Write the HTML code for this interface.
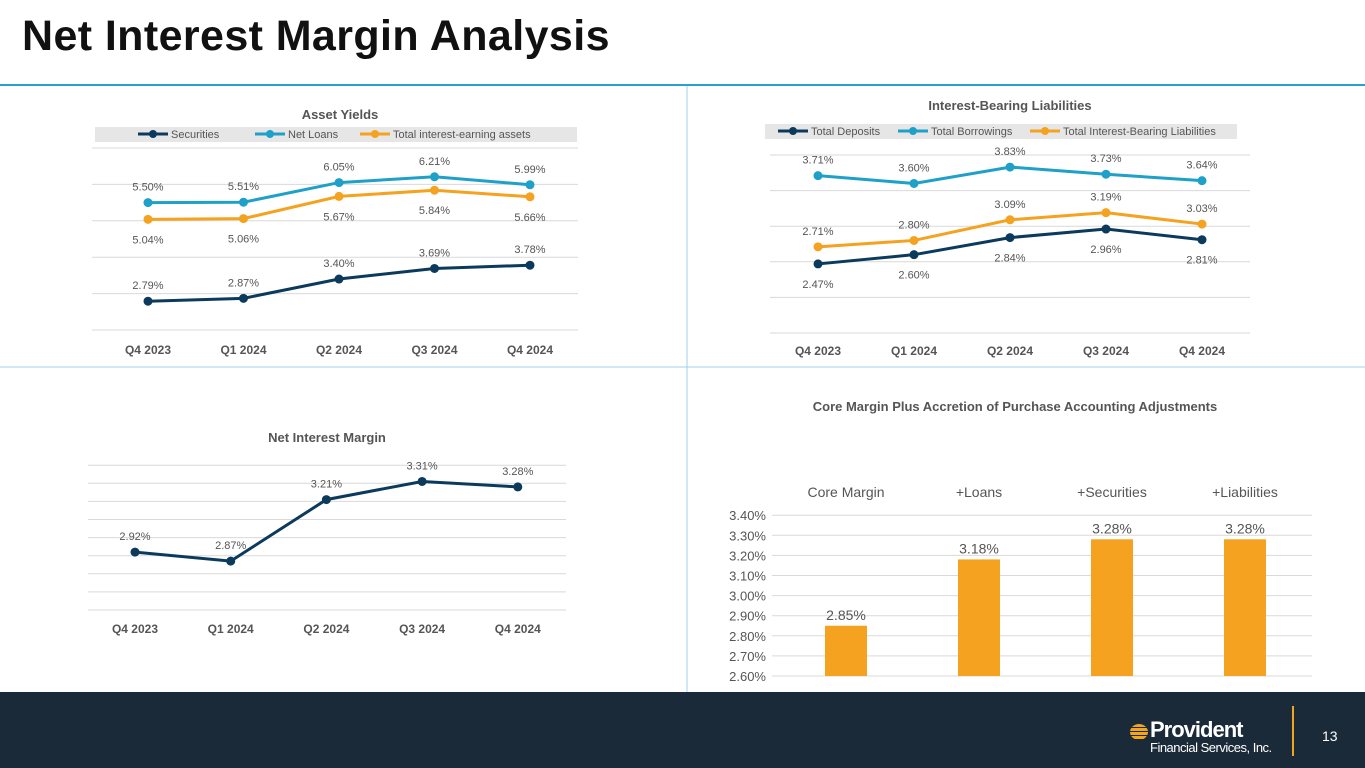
<!DOCTYPE html>
<html><head><meta charset="utf-8"><style>
body{margin:0;width:1365px;height:768px;overflow:hidden;background:#fff;font-family:"Liberation Sans",sans-serif;position:relative}
#title{position:absolute;left:22px;top:12px;font-size:43px;font-weight:bold;color:#111;margin:0;letter-spacing:0.4px}
#footer{position:absolute;left:0;top:692px;width:1365px;height:76px;background:#1b2a38}
svg{position:absolute;left:0;top:0}
</style></head><body>
<h1 id="title">Net Interest Margin Analysis</h1>
<div id="footer">
 <div style="position:absolute;left:1130px;top:28px;color:#fff">
  <div style="position:absolute;left:0;top:4px;width:18px;height:16px;border-radius:50%;background:repeating-linear-gradient(#f3a51d 0 3px,#1b2a38 3px 4px)"></div>
  <div style="position:absolute;left:20px;top:-3px;font-size:22px;font-weight:bold;letter-spacing:-1px">Provident</div>
  <div style="position:absolute;left:20px;top:20px;font-size:13px;white-space:nowrap;letter-spacing:-0.5px">Financial Services, Inc.</div>
 </div>
 <div style="position:absolute;left:1292px;top:14px;width:2px;height:50px;background:#f3a51d"></div>
 <div style="position:absolute;left:1322px;top:36px;color:#fff;font-size:14px">13</div>
</div>
<svg id="s" width="1365" height="692"></svg>
<script>
const quarters=["Q4 2023","Q1 2024","Q2 2024","Q3 2024","Q4 2024"];
const securities=[2.79,2.87,3.40,3.69,3.78];
const netLoans=[5.50,5.51,6.05,6.21,5.99];
const totalAssets=[5.04,5.06,5.67,5.84,5.66];
const deposits=[2.47,2.60,2.84,2.96,2.81];
const borrowings=[3.71,3.60,3.83,3.73,3.64];
const totalLiab=[2.71,2.80,3.09,3.19,3.03];
const nim=[2.92,2.87,3.21,3.31,3.28];
const barCats=["Core Margin","+Loans","+Securities","+Liabilities"];
const barVals=[2.85,3.18,3.28,3.28];
const barTicks=["2.60%","2.70%","2.80%","2.90%","3.00%","3.10%","3.20%","3.30%","3.40%"];
const NS="http://www.w3.org/2000/svg",S=document.getElementById('s');
function el(t,a,txt){const e=document.createElementNS(NS,t);for(const k in a)e.setAttribute(k,a[k]);if(txt!=null)e.textContent=txt;S.appendChild(e);return e;}
const DARK="#0b3a5c",BLUE="#1ea0c8",ORANGE="#f4a21f";
let l=el('line',{x1:0,y1:85,x2:1365,y2:85,stroke:"#2a9fd6","stroke-width":2});
l=el('line',{x1:0,y1:367,x2:1365,y2:367,stroke:"#9fd3ea","stroke-width":1});
l=el('line',{x1:687,y1:86,x2:687,y2:692,stroke:"#9fd3ea","stroke-width":1});

function lineChart(o){
 const y=v=>o.y0-(v-o.min)*o.ppu;
 const x=i=>o.x0+i*o.dx;
 let t=el('text',{x:o.cx,y:o.ty,"text-anchor":"middle","font-size":13,"font-weight":"bold",fill:"#555"},o.title);
 
 for(let g=0;g<=o.grids;g++){const gy=y(o.min+g*o.step);const e=el('line',{x1:o.gx1,x2:o.gx2,y1:gy,y2:gy,stroke:"#d9d9d9"});}
 quarters.forEach((q,i)=>{const e=el('text',{x:x(i),y:o.xly,"text-anchor":"middle","font-size":12,"font-weight":"bold",fill:"#555"},q);});
 if(o.legend){const r=el('rect',{x:o.lx,y:o.ly-7,width:o.lw,height:15,fill:"#e6e6e6"});
  o.series.forEach((s,k)=>{const lx=o.legend[k];
   const e=el('line',{x1:lx,x2:lx+30,y1:o.ly,y2:o.ly,stroke:s.c,"stroke-width":3});
   el('circle',{cx:lx+15,cy:o.ly,r:4,fill:s.c});
   const tt=el('text',{x:lx+33,y:o.ly+4,"font-size":11,fill:"#555"},s.n);});}
 o.series.forEach(s=>{
  const p=el('polyline',{points:s.d.map((v,i)=>x(i)+","+y(v)).join(" "),fill:"none",stroke:s.c,"stroke-width":3});
  
  s.d.forEach((v,i)=>{const c=el('circle',{cx:x(i),cy:y(v),r:4.5,fill:s.c});
   const tx=el('text',{x:x(i),y:y(v)+(s.below?24:-12),"text-anchor":"middle","font-size":11,fill:"#555"},v.toFixed(2)+"%");});
 });
}
lineChart({key:'asset-yields',title:'Asset Yields',cx:340,ty:119,min:2,step:1,grids:5,ppu:36.4,y0:330,x0:148,dx:95.5,gx1:92,gx2:578,xly:354,
 legend:[138,255,360],lx:95,ly:134,lw:482,
 series:[{k:'securities',n:'Securities',d:securities,c:DARK},{k:'net-loans',n:'Net Loans',d:netLoans,c:BLUE},{k:'total-assets',n:'Total interest-earning assets',d:totalAssets,c:ORANGE,below:true}]});
lineChart({key:'liabilities',title:'Interest-Bearing Liabilities',cx:1010,ty:110,min:1.5,step:0.5,grids:5,ppu:71.2,y0:333,x0:818,dx:96,gx1:770,gx2:1250,xly:355,
 legend:[778,898,1030],lx:765,ly:131,lw:472,
 series:[{k:'deposits',n:'Total Deposits',d:deposits,c:DARK,below:true},{k:'borrowings',n:'Total Borrowings',d:borrowings,c:BLUE},{k:'total-liabilities',n:'Total Interest-Bearing Liabilities',d:totalLiab,c:ORANGE}]});
lineChart({key:'nim',title:'Net Interest Margin',cx:327,ty:442,min:2.6,step:0.1,grids:8,ppu:181,y0:610,x0:135,dx:95.7,gx1:88,gx2:566,xly:633,
 series:[{k:'nim',n:'NIM',d:nim,c:DARK}]});
(function(){
 const min=2.6,ppu=201,y0=676,x0=846,dx=133,bw=42;
 const y=v=>y0-(v-min)*ppu;
 let t=el('text',{x:1015,y:411,"text-anchor":"middle","font-size":13,"font-weight":"bold",fill:"#555"},'Core Margin Plus Accretion of Purchase Accounting Adjustments');
 
 barTicks.forEach((tk,i)=>{const gy=y(parseFloat(tk));
  const g=el('line',{x1:772,x2:1312,y1:gy,y2:gy,stroke:"#d9d9d9"});
  const e=el('text',{x:766,y:gy+5,"text-anchor":"end","font-size":13,fill:"#555"},tk);});
 barCats.forEach((c,i)=>{const cx=x0+i*dx;
  const e=el('text',{x:cx,y:497,"text-anchor":"middle","font-size":14,fill:"#555"},c);
  const r=el('rect',{x:cx-bw/2,y:y(barVals[i]),width:bw,height:y0-y(barVals[i]),fill:ORANGE});
  const v=el('text',{x:cx,y:y(barVals[i])-6,"text-anchor":"middle","font-size":14,fill:"#555"},barVals[i].toFixed(2)+"%");});
})();
</script>
</body></html>
